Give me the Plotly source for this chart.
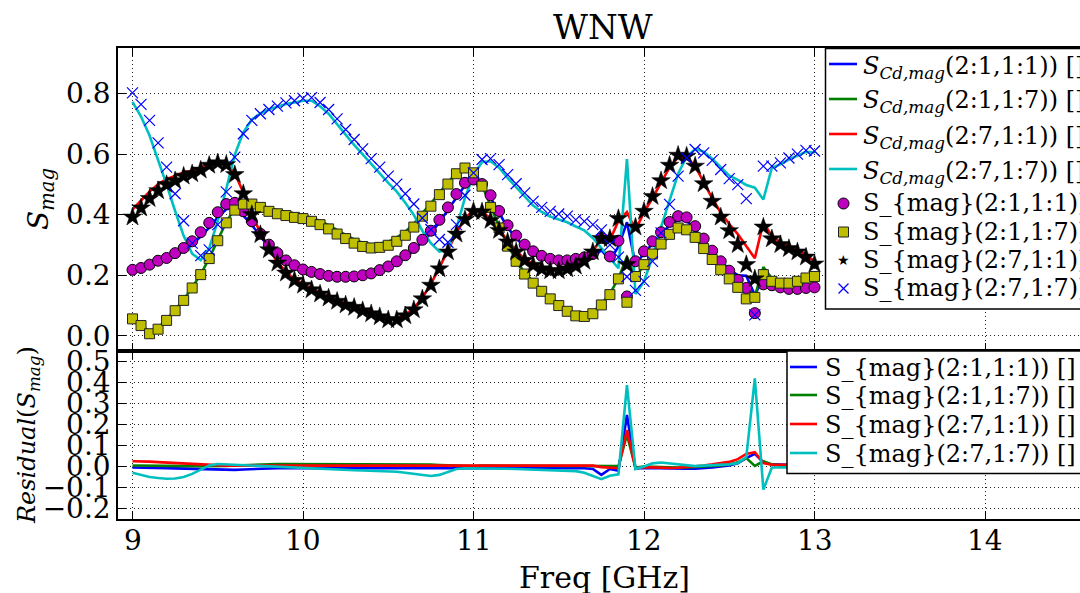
import plotly.graph_objects as go
from plotly.subplots import make_subplots

# ---------------- data ----------------
FREQ = [9.00, 9.05, 9.10, 9.15, 9.20, 9.25, 9.30, 9.35, 9.40, 9.45,
        9.50, 9.55, 9.60, 9.65, 9.70, 9.75, 9.80, 9.85, 9.90, 9.95,
        10.00, 10.05, 10.10, 10.15, 10.20, 10.25, 10.30, 10.35, 10.40, 10.45,
        10.50, 10.55, 10.60, 10.65, 10.70, 10.75, 10.80, 10.85, 10.90, 10.95,
        11.00, 11.05, 11.10, 11.15, 11.20, 11.25, 11.30, 11.35, 11.40, 11.45,
        11.50, 11.55, 11.60, 11.65, 11.70, 11.75, 11.80, 11.85, 11.90, 11.95,
        12.00, 12.05, 12.10, 12.15, 12.20, 12.25, 12.30, 12.35, 12.40, 12.45,
        12.50, 12.55, 12.60, 12.65, 12.70, 12.75, 12.80, 12.85, 12.90, 12.95,
        13.00]

# measured S_mag (markers)
MEAS_21_11 = [.218, .224, .235, .248, .257, .273, .290, .312, .342, .373,
              .408, .435, .439, .411, .378, .337, .301, .273, .249, .233,
              .219, .211, .204, .198, .195, .195, .196, .200, .206, .217,
              .229, .246, .266, .290, .317, .347, .383, .424, .468, .505,
              .516, .501, .464, .412, .365, .331, .301, .279, .264, .254,
              .249, .249, .254, .259, .270, .323, .262, .314, .130, .246,
              .279, .312, .342, .376, .395, .391, .362, .321, .281, .246,
              .215, .185, .158, .075, .170, .167, .160, .155, .155, .158,
              .160]
MEAS_21_17 = [.056, .034, .007, .022, .051, .083, .117, .158, .202, .255,
              .314, .373, .415, .435, .435, .424, .411, .403, .397, .391,
              .387, .378, .367, .353, .336, .321, .306, .295, .290, .292,
              .299, .312, .332, .359, .395, .428, .466, .501, .535, .554,
              .538, .494, .424, .356, .296, .246, .204, .174, .147, .122,
              .100, .081, .066, .064, .073, .102, .136, .188, .111, .196,
              .235, .270, .303, .335, .356, .350, .325, .288, .252, .218,
              .188, .160, .122, .127, .202, .180, .174, .174, .180, .191,
              .196]
MEAS_27_11 = [.392, .422, .453, .479, .499, .512, .527, .535, .547, .563,
              .571, .565, .532, .469, .400, .334, .284, .240, .207, .183,
              .167, .152, .138, .125, .114, .102, .094, .083, .073, .063,
              .053, .053, .066, .086, .122, .167, .221, .277, .336, .384,
              .411, .409, .381, .348, .310, .277, .249, .233, .221, .215,
              .215, .221, .230, .246, .277, .321, .321, .387, .235, .359,
              .411, .460, .512, .563, .596, .593, .560, .502, .444, .392,
              .347, .301, .235, .188, .359, .320, .301, .288, .277, .260,
              .237]
MEAS_27_17 = [.802, .764, .711, .637, .557, .469, .380, .306, .265, .284,
              .367, .475, .590, .667, .711, .733, .747, .758, .769, .776,
              .784, .786, .770, .747, .716, .681, .648, .617, .585, .557,
              .527, .501, .469, .435, .389, .351, .318, .309, .367, .464,
              .538, .582, .585, .565, .532, .502, .472, .444, .424, .411,
              .402, .395, .383, .378, .367, .350, .300, .260, .195, .150,
              .180, .246, .340, .434, .527, .587, .615, .604, .579, .549,
              .519, .499, .453, .069, .560, .560, .571, .587, .600, .612,
              .610]

# model S_Cd,mag (lines)
MODEL_21_11 = [.213, .219, .229, .241, .249, .264, .280, .300, .328, .357,
               .391, .418, .423, .397, .366, .327, .292, .265, .241, .225,
               .211, .203, .196, .190, .187, .187, .188, .192, .198, .209,
               .221, .238, .258, .282, .309, .339, .375, .416, .460, .497,
               .508, .493, .456, .404, .357, .323, .293, .271, .256, .246,
               .241, .241, .246, .251, .258, .283, .250, .294, .375, .236,
               .272, .304, .332, .365, .383, .380, .352, .313, .276, .246,
               .220, .200, .198, .135, .190, .177, .168, .163, .163, .166,
               .168]
MODEL_21_17 = [.061, .039, .011, .026, .054, .086, .119, .160, .203, .256,
               .316, .376, .420, .442, .443, .433, .421, .415, .409, .403,
               .399, .390, .379, .365, .348, .333, .318, .307, .302, .304,
               .311, .324, .344, .370, .405, .437, .473, .506, .538, .556,
               .540, .498, .428, .360, .300, .250, .208, .178, .151, .126,
               .104, .085, .070, .068, .077, .106, .139, .190, .261, .191,
               .235, .268, .299, .330, .351, .346, .323, .288, .254, .223,
               .198, .180, .162, .130, .227, .190, .179, .179, .185, .196,
               .201]
MODEL_27_11 = [.417, .447, .476, .500, .518, .528, .540, .545, .555, .569,
               .576, .569, .536, .473, .404, .338, .288, .244, .211, .187,
               .171, .156, .142, .129, .118, .106, .098, .087, .077, .067,
               .057, .057, .070, .090, .126, .171, .225, .281, .340, .388,
               .415, .413, .385, .352, .314, .281, .253, .237, .225, .219,
               .219, .225, .234, .250, .281, .318, .316, .379, .409, .349,
               .408, .455, .506, .556, .590, .590, .560, .507, .454, .407,
               .369, .336, .295, .256, .375, .328, .309, .296, .285, .268,
               .245]
MODEL_27_17 = [.772, .724, .661, .582, .499, .412, .330, .271, .250, .289,
               .379, .485, .598, .672, .714, .734, .747, .756, .765, .770,
               .776, .776, .758, .733, .700, .664, .630, .598, .565, .536,
               .505, .476, .439, .399, .347, .306, .278, .284, .355, .456,
               .530, .574, .576, .555, .521, .490, .459, .430, .409, .394,
               .384, .375, .361, .348, .323, .290, .256, .223, .583, .138,
               .180, .261, .359, .449, .535, .591, .617, .608, .585, .557,
               .529, .515, .498, .489, .450, .555, .566, .582, .595, .607,
               .605]

# residuals
RES_21_11 = [-.005, -.005, -.006, -.007, -.008, -.009, -.010, -.012, -.014, -.016,
             -.017, -.017, -.016, -.014, -.012, -.010, -.009, -.008, -.008, -.008,
             -.008, -.008, -.008, -.008, -.008, -.008, -.008, -.008, -.008, -.008,
             -.008, -.008, -.008, -.008, -.008, -.008, -.008, -.008, -.008, -.008,
             -.008, -.008, -.008, -.008, -.008, -.008, -.008, -.008, -.008, -.008,
             -.008, -.008, -.008, -.008, -.012, -.040, -.012, -.020, .245, -.010,
             -.007, -.008, -.010, -.011, -.012, -.011, -.010, -.008, -.005, .000,
             .005, .015, .040, .060, .020, .010, .008, .008, .008, .008,
             .008]
RES_21_17 = [.005, .005, .004, .004, .003, .003, .002, .002, .001, .001,
             .002, .003, .005, .007, .008, .009, .010, .012, .012, .012,
             .012, .012, .012, .012, .012, .012, .012, .012, .012, .012,
             .012, .012, .012, .011, .010, .009, .007, .005, .003, .002,
             .002, .004, .004, .004, .004, .004, .004, .004, .004, .004,
             .004, .004, .004, .004, .004, .004, .003, .002, .150, -.005,
             .000, -.002, -.004, -.005, -.005, -.004, -.002, .000, .002, .005,
             .010, .020, .040, .003, .025, .010, .005, .005, .005, .005,
             .005]
RES_27_11 = [.025, .025, .023, .021, .019, .016, .013, .010, .008, .006,
             .005, .004, .004, .004, .004, .004, .004, .004, .004, .004,
             .004, .004, .004, .004, .004, .004, .004, .004, .004, .004,
             .004, .004, .004, .004, .004, .004, .004, .004, .004, .004,
             .004, .004, .004, .004, .004, .004, .004, .004, .004, .004,
             .004, .004, .004, .004, .004, -.003, -.005, -.008, .174, -.010,
             -.003, -.005, -.006, -.007, -.006, -.003, .000, .005, .010, .015,
             .022, .035, .060, .068, .016, .008, .008, .008, .008, .008,
             .008]
RES_27_17 = [-.030, -.040, -.050, -.055, -.058, -.057, -.050, -.035, -.015, .005,
             .012, .010, .008, .005, .003, .001, .000, -.002, -.004, -.006,
             -.008, -.010, -.012, -.014, -.016, -.017, -.018, -.019, -.020, -.021,
             -.022, -.025, -.030, -.036, -.042, -.045, -.040, -.025, -.012, -.008,
             -.008, -.008, -.009, -.010, -.011, -.012, -.013, -.014, -.015, -.017,
             -.018, -.020, -.022, -.030, -.044, -.060, -.044, -.037, .388, -.012,
             .000, .015, .019, .015, .008, .004, .002, .004, .006, .008,
             .010, .016, .045, .420, -.110, -.005, -.005, -.005, -.005, -.005,
             -.005]

X_TICKS = [9, 10, 11, 12, 13, 14]
X_TEXT = ["9", "10", "11", "12", "13", "14"]
Y1_TICKS = [0.0, 0.2, 0.4, 0.6, 0.8]
Y1_TEXT = ["0.0", "0.2", "0.4", "0.6", "0.8"]
Y2_TICKS = [-0.2, -0.1, 0.0, 0.1, 0.2, 0.3, 0.4, 0.5]
Y2_TEXT = ["\u22120.2", "\u22120.1", "0.0", "0.1", "0.2", "0.3", "0.4", "0.5"]

TOP_LABELS = ["<i>S</i><sub><i>Cd,mag</i></sub>(2:1,1:1)) []",
              "<i>S</i><sub><i>Cd,mag</i></sub>(2:1,1:7)) []",
              "<i>S</i><sub><i>Cd,mag</i></sub>(2:7,1:1)) []",
              "<i>S</i><sub><i>Cd,mag</i></sub>(2:7,1:7)) []",
              "S_{mag}(2:1,1:1)) []",
              "S_{mag}(2:1,1:7)) []",
              "S_{mag}(2:7,1:1)) []",
              "S_{mag}(2:7,1:7)) []"]
BOT_LABELS = ["S_{mag}(2:1,1:1)) []",
              "S_{mag}(2:1,1:7)) []",
              "S_{mag}(2:7,1:1)) []",
              "S_{mag}(2:7,1:7)) []"]

BLUE, GREEN, RED, CYAN = "#0000ff", "#008000", "#ff0000", "#00bfbf"
MAG, OLIVE = "#bf00bf", "#bfbf00"
FONT = "DejaVu Serif"

# ---------------- figure ----------------
W, H = 1080, 593
L, R, T, B = 118, 0, 48, 74
PW, PH = W - L - R, H - T - B


def px(x):
    return (x - L) / PW


def py(y):
    return (H - B - y) / PH


fig = make_subplots(rows=2, cols=1, shared_xaxes=True, vertical_spacing=0)

line_w = 2.6
for ys, c in [(MODEL_21_11, BLUE), (MODEL_21_17, GREEN), (MODEL_27_11, RED), (MODEL_27_17, CYAN)]:
    fig.add_trace(go.Scatter(x=FREQ, y=ys, mode="lines", line=dict(color=c, width=line_w)), row=1, col=1)

fig.add_trace(go.Scatter(x=FREQ, y=MEAS_21_11, mode="markers",
                         marker=dict(symbol="circle", size=11, color=MAG, line=dict(color="black", width=1))),
              row=1, col=1)
fig.add_trace(go.Scatter(x=FREQ, y=MEAS_21_17, mode="markers",
                         marker=dict(symbol="square", size=10, color=OLIVE, line=dict(color="#222222", width=1))),
              row=1, col=1)
fig.add_trace(go.Scatter(x=FREQ, y=MEAS_27_11, mode="markers",
                         marker=dict(symbol="star", size=14, color="black", line=dict(color="black", width=0.5))),
              row=1, col=1)
fig.add_trace(go.Scatter(x=FREQ, y=MEAS_27_17, mode="markers",
                         marker=dict(symbol="x-thin", size=11, color=BLUE, line=dict(color=BLUE, width=1.2))),
              row=1, col=1)

for ys, c in [(RES_21_11, BLUE), (RES_21_17, GREEN), (RES_27_11, RED), (RES_27_17, CYAN)]:
    fig.add_trace(go.Scatter(x=FREQ, y=ys, mode="lines", line=dict(color=c, width=line_w)), row=2, col=1)

x_range = [9 - (132.5 - L) / 170.5, 9 + (W - R - 132.5) / 170.5]
split = 168 / PH

axis_common = dict(showline=True, linecolor="black", linewidth=1.5, ticks="inside", ticklen=8,
                   tickwidth=1, tickcolor="black", showgrid=True, gridcolor="#222222",
                   griddash="1px,3px", gridwidth=1, zeroline=False)

fig.update_xaxes(range=x_range, tickvals=X_TICKS, mirror="ticks", showticklabels=False, **axis_common)
fig.update_yaxes(range=[-0.05, 0.95], tickvals=Y1_TICKS, ticktext=Y1_TEXT, domain=[split, 1],
                 tickfont=dict(family=FONT, size=28, color="black"), row=1, col=1, **axis_common)
fig.update_yaxes(range=[-0.25, 0.55], tickvals=Y2_TICKS, ticktext=Y2_TEXT, domain=[0, split],
                 tickfont=dict(family=FONT, size=28, color="black"), row=2, col=1, **axis_common)

shapes = []
annotations = []

# x tick labels (placed at the tick values on the lower x axis)
for v, t in zip(X_TICKS, X_TEXT):
    annotations.append(dict(text=t, x=v, xref="x2", y=py(540), yref="paper", showarrow=False,
                            xanchor="center", yanchor="middle", font=dict(family=FONT, size=28, color="black")))

# title and axis labels
annotations.append(dict(text="WNW", x=px(603), y=py(27), xref="paper", yref="paper", showarrow=False,
                        xanchor="center", yanchor="middle", font=dict(family=FONT, size=34, color="black")))
annotations.append(dict(text="Freq [GHz]", x=px(604), y=py(577), xref="paper", yref="paper", showarrow=False,
                        xanchor="center", yanchor="middle", font=dict(family=FONT, size=30, color="black")))
annotations.append(dict(text="<i>S</i><sub><i>mag</i></sub>", x=px(40), y=py(199), xref="paper", yref="paper",
                        showarrow=False, textangle=-90, xanchor="center", yanchor="middle",
                        font=dict(family=FONT, size=28, color="black")))
annotations.append(dict(text="<i>Residual</i>(<i>S</i><sub><i>mag</i></sub>)", x=px(28), y=py(435),
                        xref="paper", yref="paper", showarrow=False, textangle=-90, xanchor="center",
                        yanchor="middle", font=dict(family=FONT, size=24, color="black")))

# top legend
shapes.append(dict(type="rect", xref="paper", yref="paper", x0=px(825.5), x1=px(1095), y0=py(48.5), y1=py(309),
                   fillcolor="white", line=dict(color="black", width=1.5), layer="above"))
top_line_y = [64, 99, 134, 169]
for yy, c in zip(top_line_y, [BLUE, GREEN, RED, CYAN]):
    shapes.append(dict(type="line", xref="paper", yref="paper", x0=px(829), x1=px(857), y0=py(yy), y1=py(yy),
                       line=dict(color=c, width=line_w), layer="above"))
top_text_y = [67, 102, 137, 172, 203, 232, 260, 288]
top_font = [24, 24, 24, 24, 24, 24, 24, 24]
for yy, t, fs in zip(top_text_y, TOP_LABELS, top_font):
    annotations.append(dict(text=t, x=px(861), y=py(yy), xref="paper", yref="paper", showarrow=False,
                            xanchor="left", yanchor="middle", font=dict(family=FONT, size=fs, color="black")))
# legend markers
shapes.append(dict(type="circle", xref="paper", yref="paper", x0=px(838), x1=px(849), y0=py(198),
                   y1=py(209), fillcolor=MAG, line=dict(color="black", width=1), layer="above"))
shapes.append(dict(type="rect", xref="paper", yref="paper", x0=px(838.5), x1=px(848.5), y0=py(227), y1=py(237),
                   fillcolor=OLIVE, line=dict(color="#222222", width=1), layer="above"))
annotations.append(dict(text="\u2605", x=px(843.5), y=py(260), xref="paper", yref="paper", showarrow=False,
                        xanchor="center", yanchor="middle", font=dict(family="DejaVu Sans", size=14, color="black")))
shapes.append(dict(type="line", xref="paper", yref="paper", x0=px(838.5), x1=px(848.5), y0=py(283.5), y1=py(293.5),
                   line=dict(color=BLUE, width=1.2), layer="above"))
shapes.append(dict(type="line", xref="paper", yref="paper", x0=px(838.5), x1=px(848.5), y0=py(293.5), y1=py(283.5),
                   line=dict(color=BLUE, width=1.2), layer="above"))

# bottom legend
shapes.append(dict(type="rect", xref="paper", yref="paper", x0=px(787), x1=px(1095), y0=py(351), y1=py(473.5),
                   fillcolor="white", line=dict(color="black", width=1.5), layer="above"))
bot_y = [367, 395, 424, 453]
for yy, c, t in zip(bot_y, [BLUE, GREEN, RED, CYAN], BOT_LABELS):
    shapes.append(dict(type="line", xref="paper", yref="paper", x0=px(790), x1=px(817), y0=py(yy), y1=py(yy),
                       line=dict(color=c, width=line_w), layer="above"))
    annotations.append(dict(text=t, x=px(823), y=py(yy + 1), xref="paper", yref="paper", showarrow=False,
                            xanchor="left", yanchor="middle", font=dict(family=FONT, size=24, color="black")))

fig.update_layout(width=W, height=H, margin=dict(l=L, r=R, t=T, b=B, pad=0),
                  plot_bgcolor="white", paper_bgcolor="white", showlegend=False,
                  font=dict(family=FONT, size=28, color="black"),
                  shapes=shapes, annotations=annotations)

fig.write_html("out.html", config={"displayModeBar": False},
               post_script="document.body.style.margin='0px';document.body.style.overflow='hidden';")
